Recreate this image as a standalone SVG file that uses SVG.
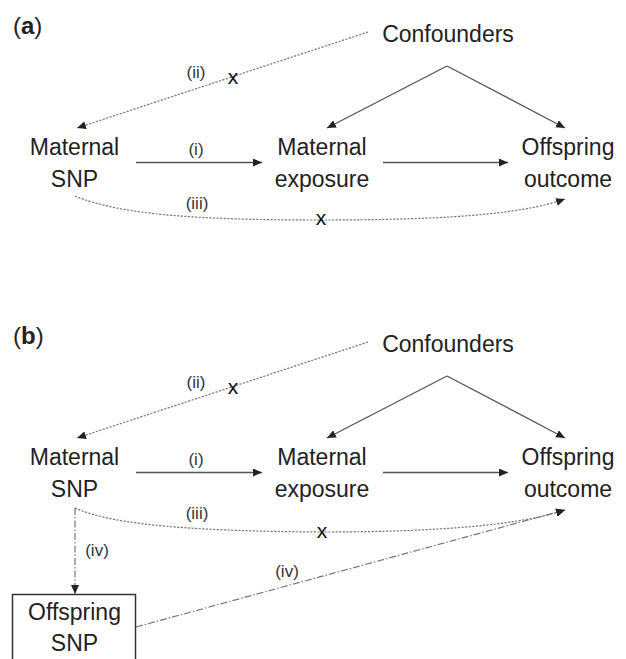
<svg xmlns="http://www.w3.org/2000/svg" width="626" height="659" viewBox="0 0 626 659">
<style>
text{font-family:"Liberation Sans",Arial,sans-serif;fill:#222}
.n{font-size:23px;text-anchor:middle}
.l{font-size:17px;text-anchor:middle;fill:#333}
.x{font-size:21px;text-anchor:middle;fill:#111}
.p{font-size:24px}
.s{fill:none;stroke:#555;stroke-width:1.3}
.d{fill:none;stroke:#777;stroke-width:1.2;stroke-dasharray:2.2 1.4}
.dd{fill:none;stroke:#777;stroke-width:1.2;stroke-dasharray:7 2 1.5 2}
</style>
<defs>
<marker id="ah" markerUnits="userSpaceOnUse" markerWidth="10" markerHeight="8" viewBox="0 0 10 8" refX="9" refY="4" orient="auto">
<path d="M0,0 L9,4 L0,8 z" fill="#222"/>
</marker>
</defs>

<!-- Panel (a) -->
<text class="p" x="13" y="34">(<tspan font-weight="bold">a</tspan>)</text>
<g id="a-connectors">
<path class="s" d="M136,162.5 L262,162.5" marker-end="url(#ah)"/>
<path class="s" d="M383,162.5 L508,162.5" marker-end="url(#ah)"/>
<path class="s" d="M447,66 L327,128" marker-end="url(#ah)"/>
<path class="s" d="M447,66 L565,128" marker-end="url(#ah)"/>
<path class="d" d="M368,32 L77,128" marker-end="url(#ah)"/>
<path class="d" d="M75,196 C120,215 200,220 320,220 C440,220 520,215 565,199" marker-end="url(#ah)"/>
</g>
<g id="a-labels">
<text class="l" x="196" y="155">(i)</text>
<text class="l" x="196" y="78">(ii)</text>
<text class="x" x="233" y="84">x</text>
<text class="l" x="197" y="209">(iii)</text>
<text class="x" x="321" y="225">x</text>
</g>
<g id="a-confounders"><text class="n" x="448" y="42">Confounders</text></g>
<g id="a-maternal-snp"><text class="n" x="74.5" y="155">Maternal</text><text class="n" x="74.5" y="187">SNP</text></g>
<g id="a-maternal-exposure"><text class="n" x="322" y="155">Maternal</text><text class="n" x="322" y="187">exposure</text></g>
<g id="a-offspring-outcome"><text class="n" x="568" y="155">Offspring</text><text class="n" x="568" y="187">outcome</text></g>

<!-- Panel (b) -->
<text class="p" x="13" y="344">(<tspan font-weight="bold">b</tspan>)</text>
<g id="b-connectors">
<path class="s" d="M136,472.5 L262,472.5" marker-end="url(#ah)"/>
<path class="s" d="M383,472.5 L508,472.5" marker-end="url(#ah)"/>
<path class="s" d="M447,376 L327,438" marker-end="url(#ah)"/>
<path class="s" d="M447,376 L565,438" marker-end="url(#ah)"/>
<path class="d" d="M368,342 L77,438" marker-end="url(#ah)"/>
<path class="d" d="M75,508 C115,526 200,531 320,532 C440,532 520,525 565,510" marker-end="url(#ah)"/>
<path class="dd" d="M75,508 L75,594" marker-end="url(#ah)"/>
<path class="dd" d="M136,627 L565,510" marker-end="url(#ah)"/>
</g>
<g id="b-labels">
<text class="l" x="196" y="465">(i)</text>
<text class="l" x="196" y="388">(ii)</text>
<text class="x" x="233" y="394">x</text>
<text class="l" x="197" y="519">(iii)</text>
<text class="x" x="322" y="538">x</text>
<text class="l" x="97" y="556">(iv)</text>
<text class="l" x="287" y="577">(iv)</text>
</g>
<g id="b-confounders"><text class="n" x="448" y="352">Confounders</text></g>
<g id="b-maternal-snp"><text class="n" x="74.5" y="465">Maternal</text><text class="n" x="74.5" y="497">SNP</text></g>
<g id="b-maternal-exposure"><text class="n" x="322" y="465">Maternal</text><text class="n" x="322" y="497">exposure</text></g>
<g id="b-offspring-outcome"><text class="n" x="568" y="465">Offspring</text><text class="n" x="568" y="497">outcome</text></g>
<g id="b-offspring-snp">
<rect x="12.5" y="594.5" width="123" height="70" fill="none" stroke="#333" stroke-width="1.5"/>
<text class="n" x="74.5" y="620">Offspring</text><text class="n" x="74.5" y="651">SNP</text>
</g>
</svg>
